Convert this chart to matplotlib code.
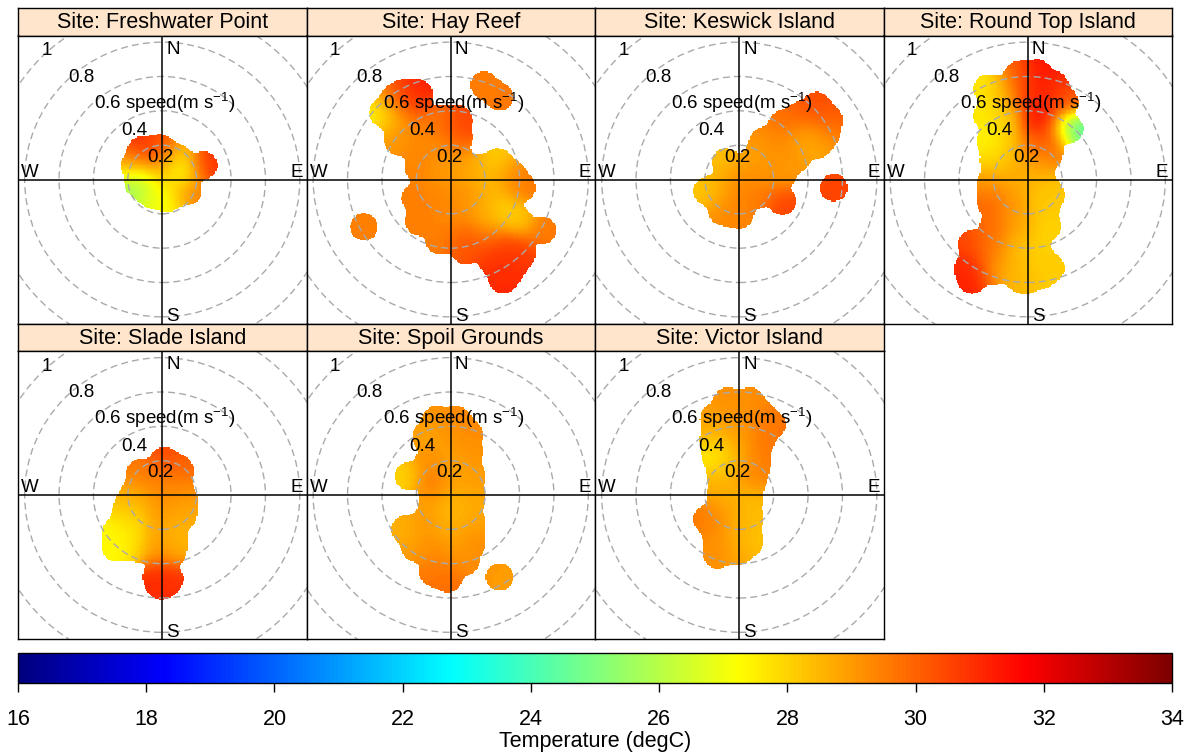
import numpy as np
import matplotlib
matplotlib.use("Agg")
import matplotlib.pyplot as plt
from matplotlib.colors import LinearSegmentedColormap, Normalize
from matplotlib.cm import ScalarMappable
from matplotlib.patches import Circle

plt.rcParams['font.family'] = ['Liberation Sans', 'DejaVu Sans']
plt.rcParams['mathtext.fontset'] = 'custom'
plt.rcParams['mathtext.rm'] = 'Liberation Sans'
plt.rcParams['mathtext.it'] = 'Liberation Sans:italic'
plt.rcParams['mathtext.bf'] = 'Liberation Sans:bold'
plt.rcParams['mathtext.default'] = 'regular'

# ---------------------------------------------------------------------------
# Mean current components (u = eastward, v = northward, m/s) and the mean
# water temperature (degC) observed in each direction/speed bin, per site.
# ---------------------------------------------------------------------------
site_names = ["Freshwater Point", "Hay Reef", "Keswick Island", "Round Top Island",
              "Slade Island", "Spoil Grounds", "Victor Island"]

freshwater_u = [-0.12, -0.01, -0.16, -0.14, -0.06, 0.03, -0.01, 0.11, 0.09, 0.24, 0.15]
freshwater_v = [0.17, 0.18, 0.08, -0.03, -0.09, -0.11, 0.03, 0.04, 0.12, 0.08, -0.07]
freshwater_t = [31.0, 30.3, 28.5, 25.3, 26.8, 27.3, 28.8, 26.5, 28.3, 30.8, 29.5]

hay_u = [-0.40, -0.33, -0.27, -0.19, -0.23, -0.32, -0.31, -0.27, -0.17, -0.07, 0.04, 0.04,
         -0.19, -0.07, 0.03, -0.19, -0.07, 0.06, -0.21, -0.07, 0.06, 0.16, 0.27, 0.35,
         0.41, 0.24, 0.32, 0.39, 0.53, 0.16, 0.04, -0.07, -0.19, -0.07, 0.08, 0.20,
         0.32, 0.24, 0.35, 0.30, 0.41, 0.08, -0.51, 0.19, 0.28, 0.22]
hay_v = [0.39, 0.47, 0.50, 0.50, 0.41, 0.34, 0.22, 0.26, 0.32, 0.35, 0.35, 0.24,
         0.18, 0.18, 0.12, 0.06, 0.03, 0.03, -0.11, -0.09, -0.09, 0.06, 0.10, 0.03,
         -0.05, -0.05, -0.17, -0.25, -0.30, -0.17, -0.21, -0.21, -0.25, -0.36, -0.32, -0.36,
         -0.40, -0.48, -0.52, -0.59, -0.44, -0.42, -0.28, 0.55, 0.48, -0.27]
hay_t = [27.3, 29.5, 31.0, 31.2, 30.5, 28.5, 29.0, 29.3, 29.5, 29.6, 30.6, 30.3,
         29.4, 29.2, 29.0, 29.4, 29.0, 28.8, 29.5, 29.4, 29.2, 28.6, 28.0, 29.3,
         29.6, 28.5, 28.0, 28.2, 29.6, 28.8, 29.2, 29.4, 29.5, 29.5, 30.0, 30.3,
         30.6, 30.8, 31.0, 31.0, 30.6, 30.3, 29.5, 29.5, 29.6, 28.4]

keswick_u = [0.45, 0.52, 0.50, 0.35, 0.25, 0.37, 0.45, 0.14, 0.25, 0.33, 0.10, -0.08,
             0.00, 0.14, 0.25, -0.19, -0.10, 0.00, 0.10, 0.25, -0.10, 0.00, 0.55]
keswick_v = [0.43, 0.35, 0.26, 0.37, 0.32, 0.24, 0.20, 0.22, 0.18, 0.12, 0.12, 0.10,
             0.03, 0.03, 0.03, -0.07, -0.05, -0.09, -0.09, -0.13, -0.19, -0.21, -0.05]
keswick_t = [30.4, 30.1, 29.5, 30.0, 29.7, 28.8, 28.6, 29.2, 29.3, 29.0, 28.8, 28.3,
             29.2, 29.2, 29.0, 28.2, 28.7, 29.5, 29.5, 30.5, 29.2, 29.4, 30.5]

roundtop_u = [-0.06, 0.05, 0.15, -0.24, -0.14, -0.02, 0.09, 0.21, 0.24, -0.24, -0.12, 0.05,
              0.13, -0.22, -0.10, 0.03, 0.12, -0.20, -0.06, 0.05, -0.22, -0.08, 0.07, -0.22,
              -0.08, 0.09, 0.13, -0.20, -0.06, 0.11, -0.33, -0.35, -0.33, -0.22, -0.20, -0.06,
              -0.06, 0.05, 0.07, -0.02, 0.13]
roundtop_v = [0.61, 0.62, 0.55, 0.53, 0.51, 0.49, 0.45, 0.45, 0.29, 0.37, 0.37, 0.34,
              0.26, 0.22, 0.22, 0.20, 0.14, 0.10, 0.08, 0.06, -0.03, -0.03, -0.03, -0.13,
              -0.15, -0.17, -0.09, -0.27, -0.27, -0.28, -0.38, -0.52, -0.59, -0.40, -0.54, -0.40,
              -0.56, -0.42, -0.56, -0.59, -0.52]
roundtop_t = [30.0, 31.5, 31.0, 27.6, 28.6, 30.8, 31.3, 30.0, 24.3, 27.6, 28.2, 31.5,
              30.5, 27.4, 28.2, 30.0, 29.5, 28.0, 28.6, 28.8, 29.0, 28.8, 28.3, 30.0,
              29.0, 28.2, 28.2, 29.8, 28.8, 28.0, 30.5, 31.0, 31.2, 29.5, 29.0, 28.5,
              28.5, 28.0, 28.0, 28.5, 28.2]

slade_u = [0.01, 0.10, -0.13, -0.03, 0.08, -0.15, -0.01, 0.12, -0.17, -0.03, 0.12,
           -0.27, -0.17, -0.27, -0.15, -0.03, 0.06, -0.03, 0.06, -0.03, 0.04, -0.01,
           -0.21, -0.19]
slade_v = [0.20, 0.15, 0.13, 0.09, 0.07, 0.02, -0.02, -0.02, -0.08, -0.12, -0.12,
           -0.22, -0.20, -0.31, -0.31, -0.24, -0.24, -0.33, -0.33, -0.47, -0.49, -0.53,
           -0.13, -0.05]
slade_t = [30.5, 30.0, 29.6, 29.4, 29.4, 29.0, 29.2, 29.0, 28.3, 29.0, 28.7,
           27.3, 27.6, 27.3, 27.8, 29.0, 28.4, 29.3, 28.7, 31.0, 30.8, 31.0,
           27.8, 28.5]

spoil_u = [-0.09, 0.03, 0.10, -0.15, -0.03, 0.10, -0.25, -0.13, -0.01, -0.11, 0.01, 0.12,
           -0.11, 0.01, 0.12, 0.12, -0.27, -0.15, -0.01, -0.21, -0.09, 0.04, 0.12,
           -0.11, -0.02, 0.08, 0.28]
spoil_v = [0.44, 0.44, 0.36, 0.34, 0.33, 0.25, 0.11, 0.19, 0.19, 0.07, 0.07, 0.11,
           -0.04, -0.06, -0.02, -0.16, -0.20, -0.16, -0.18, -0.31, -0.33, -0.31, -0.28,
           -0.45, -0.49, -0.39, -0.48]
spoil_t = [29.1, 29.3, 29.3, 28.8, 29.0, 29.1, 28.0, 29.3, 28.8, 29.8, 28.8, 29.0,
           28.8, 28.4, 28.8, 28.8, 28.6, 29.1, 28.6, 29.0, 29.3, 28.8, 29.3,
           29.6, 29.8, 29.3, 29.0]

victor_u = [-0.07, 0.06, -0.15, -0.01, 0.12, 0.19, -0.15, -0.01, 0.12, -0.14, -0.01, 0.10,
            -0.11, 0.08, -0.11, 0.06, -0.19, -0.07, 0.06, -0.13, 0.01, 0.06, -0.13, -0.01]
victor_v = [0.55, 0.55, 0.45, 0.45, 0.47, 0.41, 0.33, 0.33, 0.31, 0.23, 0.21, 0.19,
            0.12, 0.10, 0.00, -0.02, -0.14, -0.12, -0.14, -0.25, -0.25, -0.27, -0.35, -0.33]
victor_t = [29.2, 29.2, 28.9, 29.0, 29.4, 29.7, 28.5, 28.9, 29.6, 27.3, 28.4, 29.6,
            28.5, 29.3, 28.7, 28.4, 29.6, 28.9, 28.4, 29.2, 28.7, 28.1, 29.2, 28.9]

site_u = [freshwater_u, hay_u, keswick_u, roundtop_u, slade_u, spoil_u, victor_u]
site_v = [freshwater_v, hay_v, keswick_v, roundtop_v, slade_v, spoil_v, victor_v]
site_t = [freshwater_t, hay_t, keswick_t, roundtop_t, slade_t, spoil_t, victor_t]

ring_levels = [0.2, 0.4, 0.6, 0.8, 1.0]
temp_ticks = list(range(16, 35, 2))
temp_range = (16, 34)

# ---------------------------------------------------------------------------
W, H = 1194, 754
fig = plt.figure(figsize=(W / 100, H / 100), dpi=100)
fig.patch.set_facecolor("white")


def px_axes(x0, y0, w, h):
    """Axes placed by its top-left corner and size in pixels."""
    return fig.add_axes([x0 / W, 1 - (y0 + h) / H, w / W, h / H])


cmap = LinearSegmentedColormap.from_list(
    "temp", ["#00007F", "#0000FF", "#007FFF", "#00FFFF", "#7FFF7F",
             "#FFFF00", "#FF7F00", "#FF0000", "#7F0000"], N=256)
norm = Normalize(*temp_range)

LIM = 0.8387          # half-width of each panel in m/s
REACH = 0.08          # radius of the surface around an isolated bin
SHAPE = 0.045         # kernel width of the coverage field
SMOOTH = 0.07         # kernel width of the temperature surface
grid = np.linspace(-LIM, LIM, 230)
gu, gv = np.meshgrid(grid, grid)
cover_level = np.exp(-REACH ** 2 / (2 * SHAPE ** 2))

panel_w, panel_h, strip_h = 288.5, 288.0, 27.5
for i, name in enumerate(site_names):
    col, row = i % 4, i // 4
    x0 = 18 + col * panel_w
    y0 = 8 + row * (strip_h + panel_h)

    strip = px_axes(x0, y0, panel_w, strip_h)
    strip.set_facecolor("#FFE5CC")
    strip.set_xticks([]); strip.set_yticks([])
    for s in strip.spines.values():
        s.set_linewidth(1.0); s.set_color("black")
    strip.text(0.5, 0.47, f"Site: {name}", ha="center", va="center",
               fontsize=15.5, transform=strip.transAxes)

    ax = px_axes(x0, y0 + strip_h, panel_w, panel_h)
    ax.set_xlim(-LIM, LIM); ax.set_ylim(-LIM, LIM)
    ax.set_xticks([]); ax.set_yticks([])
    for s in ax.spines.values():
        s.set_linewidth(1.0); s.set_color("black")

    pu, pv, pt = (np.asarray(a, float) for a in (site_u[i], site_v[i], site_t[i]))
    d2 = (gu[..., None] - pu) ** 2 + (gv[..., None] - pv) ** 2
    cover = np.exp(-d2 / (2 * SHAPE ** 2)).sum(-1)
    with np.errstate(invalid="ignore", divide="ignore"):
        wts = np.exp(-d2 / (2 * SMOOTH ** 2))
        z = (wts * pt).sum(-1) / wts.sum(-1)
    z = np.ma.array(z, mask=(cover < cover_level) | ~np.isfinite(z))
    ax.imshow(z, extent=[-LIM, LIM, -LIM, LIM], origin="lower", cmap=cmap,
              norm=norm, interpolation="nearest", zorder=1, aspect="auto")

    for r in ring_levels:
        ax.add_patch(Circle((0, 0), r, fill=False, ec="#AAAAAA", lw=1.0,
                            ls=(0, (5, 3)), zorder=2))
    ax.axhline(0, color="black", lw=1.1, zorder=3)
    ax.axvline(0, color="black", lw=1.1, zorder=3)

    for r in ring_levels:
        lab = f"{r:g}"
        if r == 0.6:
            lab += r" speed(m s$^{-1}$)"
        ax.text(0.067 - 0.77 * r, -0.052 + 0.775 * r, lab, ha="left",
                va="baseline", fontsize=13.5, zorder=4)

    ax.text(0.062, 0.733, "N", ha="center", va="baseline", fontsize=13.5, zorder=4)
    ax.text(0.060, -0.827, "S", ha="center", va="baseline", fontsize=13.5, zorder=4)
    ax.text(-0.77, 0.017, "W", ha="center", va="baseline", fontsize=13.5, zorder=4)
    ax.text(0.78, 0.017, "E", ha="center", va="baseline", fontsize=13.5, zorder=4)

# colour key
cax = px_axes(18, 653, 1154, 30)
cb = fig.colorbar(ScalarMappable(norm=norm, cmap=cmap), cax=cax,
                  orientation="horizontal", ticks=temp_ticks)
cb.outline.set_linewidth(1.0)
cax.tick_params(direction="out", length=6.5, width=1.0, labelsize=15.5, pad=12)
fig.text(595 / W, 1 - 742 / H, "Temperature (degC)", ha="center", va="center",
         fontsize=15.5)

fig.savefig("out.png", dpi=100)
